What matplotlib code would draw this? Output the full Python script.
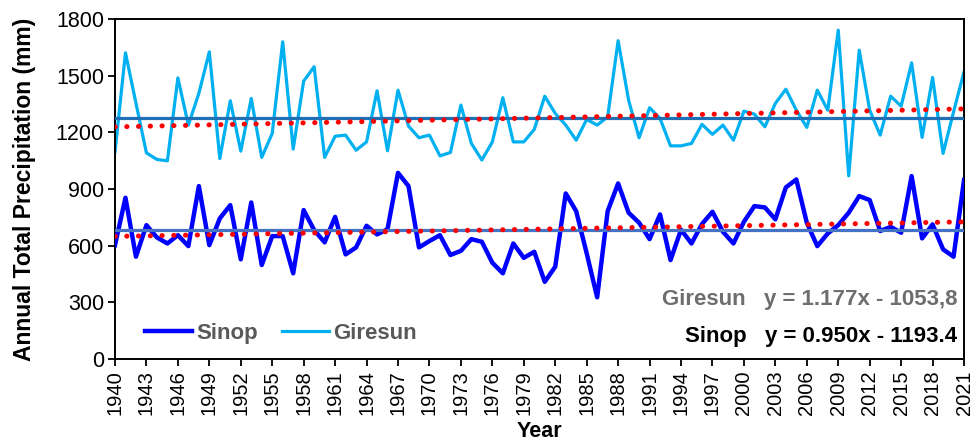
import numpy as np
import matplotlib.pyplot as plt

plt.rcParams['font.family'] = ['Liberation Sans', 'DejaVu Sans']

## Datos
years = np.arange(1940, 2022)

sinop = [603, 854, 542, 709, 644, 612, 656, 598, 916, 603,
         745, 815, 528, 829, 498, 651, 651, 454, 789, 683,
         618, 753, 554, 591, 706, 660, 688, 986, 916, 591,
         625, 656, 551, 573, 635, 621, 510, 454, 612, 536,
         568, 409, 489, 877, 783, 560, 327, 783, 930, 775,
         722, 635, 766, 524, 685, 612, 715, 780, 674, 612,
         727, 810, 803, 740, 909, 951, 722, 598, 665, 709,
         775, 863, 842, 678, 700, 669, 969, 639, 713, 581,
         542, 948]

giresun = [1097, 1622, 1355, 1092, 1057, 1050, 1489, 1239, 1407, 1627,
           1062, 1368, 1101, 1380, 1068, 1195, 1680, 1112, 1472, 1548,
           1068, 1180, 1186, 1106, 1150, 1421, 1103, 1424, 1234, 1172,
           1186, 1076, 1094, 1345, 1142, 1054, 1150, 1384, 1150, 1150,
           1216, 1392, 1301, 1239, 1159, 1269, 1239, 1283, 1686, 1371,
           1172, 1331, 1274, 1129, 1129, 1142, 1243, 1190, 1239, 1159,
           1313, 1297, 1230, 1354, 1429, 1318, 1227, 1424, 1318, 1742,
           970, 1636, 1318, 1186, 1392, 1339, 1569, 1174, 1491, 1089,
           1309, 1521]

# Coeficientes de tendencia (y = a*x + b)
sinop_trend = (0.950, -1193.4)
giresun_trend = (1.177, -1053.8)

## Figura
fig = plt.figure(figsize=(9.72, 4.46), dpi=100)
ax = fig.add_axes([0.1183, 0.195, 0.8735, 0.762])

ax.plot(years, sinop, '-', color='#0000FF', lw=3.2, label='Sinop', zorder=3)
ax.plot(years, giresun, '-', color='#00B0F0', lw=2.3, label='Giresun', zorder=2)

# Promedios
ax.axhline(np.mean(giresun), color='#1F6FB5', lw=2.3, zorder=4)
ax.axhline(np.mean(sinop), color='#4472C4', lw=2.3, zorder=4)

# Tendencias
for a, b in (giresun_trend, sinop_trend):
    ax.plot(years, a * years + b, color='#FF0000', lw=3.6,
            linestyle=(0, (0.05, 2.3)), dash_capstyle='round', zorder=5)

ax.set_xlim(1940, 2021)
ax.set_ylim(0, 1800)
ax.set_yticks(np.arange(0, 1801, 300))
ax.set_xticks(np.arange(1940, 2022, 3))
ax.set_xticklabels([str(y) for y in range(1940, 2022, 3)], rotation=90, fontsize=14.5)
ax.tick_params(axis='y', labelsize=15.5)
ax.tick_params(direction='out', length=5, width=1.3, colors='black', pad=3)
for sp in ax.spines.values():
    sp.set_linewidth(1.4)

ax.set_ylabel('Annual Total Precipitation (mm)', fontsize=16.5, fontweight='bold', labelpad=14)
ax.set_xlabel('Year', fontsize=15.5, fontweight='bold', labelpad=4)

leg = ax.legend(loc='lower left', bbox_to_anchor=(0.012, -0.015), ncol=2, frameon=False,
                prop={'size': 16, 'weight': 'bold'}, handlelength=2.1,
                columnspacing=1.1, handletextpad=0.2)
for t in leg.get_texts():
    t.set_color('#595959')

ax.text(0.992, 0.175, 'Giresun   y = 1.177x - 1053,8', transform=ax.transAxes,
        ha='right', va='center', fontsize=16, fontweight='bold', color='#6E6E6E')
ax.text(0.992, 0.065, 'Sinop   y = 0.950x - 1193.4', transform=ax.transAxes,
        ha='right', va='center', fontsize=16, fontweight='bold', color='black')

plt.savefig('out.png', dpi=100)
